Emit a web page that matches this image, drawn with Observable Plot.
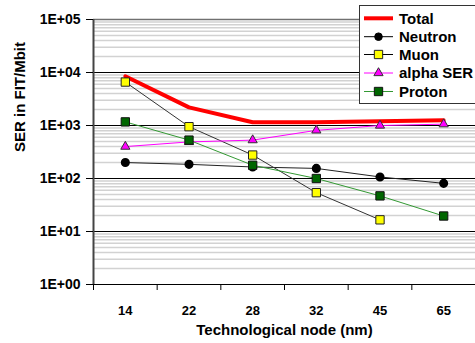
<!DOCTYPE html>
<html>
<head>
<meta charset="utf-8">
<script src="https://cdn.jsdelivr.net/npm/d3@7"></script>
<script src="https://cdn.jsdelivr.net/npm/@observablehq/plot@0.6"></script>
<style>
  html, body { margin: 0; padding: 0; background: white; }
  #chart { position: relative; width: 475px; height: 343px; overflow: hidden; }
</style>
</head>
<body>
<div id="chart"></div>
<script>
// ---- data ----
const nodes   = ["14", "22", "28", "32", "45", "65"];
const total   = [8500, 2200, 1150, 1150, 1200, 1250];
const neutron = [200, 185, 165, 155, 107, 81];
const muon    = [6600, 950, 277, 54, 16.6, null];
const alpha   = [400, 490, 530, 810, 1000, 1060];
const proton  = [1170, 530, 178, 100, 47, 19.6];
const yTicks  = [1, 10, 100, 1000, 10000, 100000];
const seriesNames = ["Total", "Neutron", "Muon", "alpha SER", "Proton"];

// ---- helpers ----
const rows = (vals) => vals.map((v, i) => ({x: i + 0.5, v})).filter(d => d.v != null);
const minor = [];
for (const d of yTicks.slice(0, -1)) for (let k = 2; k <= 9; k++) minor.push(d * k);
const fmt = d => "1E+" + String(Math.round(Math.log10(d))).padStart(2, "0");

const font = "'Liberation Sans', Arial, Helvetica, sans-serif";

const chart = Plot.plot({
  width: 475,
  height: 343,
  marginLeft: 93,
  marginRight: 0,
  marginTop: 19,
  marginBottom: 59,
  style: {fontFamily: font, fontWeight: "bold", fontSize: "14px", color: "black", background: "white", overflow: "visible"},
  x: {domain: [0, nodes.length]},
  y: {type: "log", domain: [yTicks[0], yTicks[yTicks.length - 1]]},
  marks: [
    Plot.ruleY(minor, {stroke: "#d2d2d2", strokeWidth: 1.5}),
    Plot.ruleY(yTicks.slice(0, -1), {stroke: "black", strokeWidth: 1}),
    Plot.ruleY(yTicks.slice(-1), {stroke: "#707070", strokeWidth: 1.5}),
    Plot.ruleX([0], {stroke: "#444", strokeWidth: 2}),
    Plot.axisY({ticks: yTicks, tickFormat: fmt, tickSize: 7, tickPadding: 6, label: null, fontSize: 14}),
    Plot.axisX({ticks: d3.range(0, nodes.length + 1), tickFormat: () => "", tickSize: 6, label: null}),
    Plot.axisX({ticks: nodes.map((_, i) => i + 0.5), tickFormat: d => nodes[Math.floor(d)], tickSize: 0, tickPadding: 21, label: null, fontSize: 13}),
    Plot.text(["SER in FIT/Mbit"], {frameAnchor: "left", rotate: -90, dx: -73, fontSize: 15, fontWeight: "bold"}),
    Plot.text(["Technological node (nm)"], {frameAnchor: "bottom", dy: 50, fontSize: 15, fontWeight: "bold"}),
    // Total
    Plot.line(rows(total), {x: "x", y: "v", stroke: "#ff0000", strokeWidth: 4}),
    // Neutron
    Plot.line(rows(neutron), {x: "x", y: "v", stroke: "#222", strokeWidth: 1}),
    Plot.dot(rows(neutron), {x: "x", y: "v", r: 3.8, fill: "black", stroke: "black"}),
    // Muon
    Plot.line(rows(muon), {x: "x", y: "v", stroke: "#333", strokeWidth: 1}),
    Plot.dot(rows(muon), {x: "x", y: "v", symbol: "square", r: 4.7, fill: "#ffff00", stroke: "#222", strokeWidth: 1}),
    // alpha
    Plot.line(rows(alpha), {x: "x", y: "v", stroke: "#ff00ff", strokeWidth: 1}),
    Plot.dot(rows(alpha), {x: "x", y: "v", symbol: "triangle", r: 3.4, fill: "#ff00ff", stroke: "#333", strokeWidth: 1}),
    // Proton
    Plot.line(rows(proton), {x: "x", y: "v", stroke: "#339933", strokeWidth: 1}),
    Plot.dot(rows(proton), {x: "x", y: "v", symbol: "square", r: 4.7, fill: "#006600", stroke: "#111", strokeWidth: 1})
  ]
});
document.getElementById("chart").appendChild(chart);

// ---- legend ----
const svg = d3.select(chart);
const lg = svg.append("g").attr("font-family", font).attr("font-weight", "bold")
  .attr("font-size", 15).attr("text-anchor", "start");
lg.append("rect").attr("x", 359.5).attr("y", 5.5).attr("width", 130).attr("height", 98)
  .attr("fill", "white").attr("stroke", "#333").attr("stroke-width", 1);
const styles = [
  {stroke: "#ff0000", w: 4, sym: null},
  {stroke: "black", w: 1, sym: d3.symbolCircle, r: 3.8, fill: "black", ms: "black"},
  {stroke: "black", w: 1, sym: d3.symbolSquare, r: 4.7, fill: "#ffff00", ms: "#222"},
  {stroke: "#ff00ff", w: 1, sym: d3.symbolTriangle, r: 3.4, fill: "#ff00ff", ms: "#333"},
  {stroke: "#339933", w: 1, sym: d3.symbolSquare, r: 4.7, fill: "#006600", ms: "#111"}
];
const ys = [18.3, 36.7, 54.5, 73, 91.5];
seriesNames.forEach((name, i) => {
  const s = styles[i], y = ys[i];
  lg.append("line").attr("x1", 364).attr("x2", 393).attr("y1", y).attr("y2", y)
    .attr("stroke", s.stroke).attr("stroke-width", s.w);
  if (s.sym) {
    lg.append("path").attr("d", d3.symbol(s.sym, Math.PI * s.r * s.r)())
      .attr("transform", `translate(378.5,${y})`).attr("fill", s.fill).attr("stroke", s.ms);
  }
  lg.append("text").attr("x", 399).attr("y", y).attr("dy", "0.35em")
    .attr("text-anchor", "start").text(name);
});
</script>
</body>
</html>
